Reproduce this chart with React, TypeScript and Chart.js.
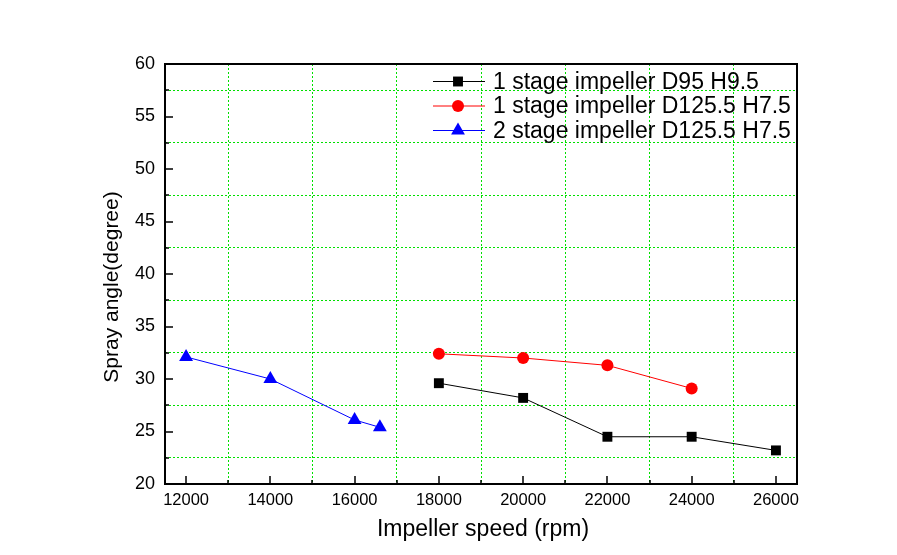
import React, { useEffect, useRef } from "react";
import { Chart, registerables } from "chart.js";

Chart.register(...registerables);

// ---- Data ----
const xMajorTicks = [12000, 14000, 16000, 18000, 20000, 22000, 24000, 26000];
const xMinorTicks = [13000, 15000, 17000, 19000, 21000, 23000, 25000];
const yMajorTicks = [20, 25, 30, 35, 40, 45, 50, 55, 60];
const yMinorTicks = [22.5, 27.5, 32.5, 37.5, 42.5, 47.5, 52.5, 57.5];

const seriesLabels = [
  "1 stage impeller D95 H9.5",
  "1 stage impeller D125.5 H7.5",
  "2 stage impeller D125.5 H7.5",
];
const series1Speed = [18000, 20000, 22000, 24000, 26000];
const series1Angle = [29.6, 28.2, 24.5, 24.5, 23.2];
const series2Speed = [18000, 20000, 22000, 24000];
const series2Angle = [32.4, 32.0, 31.3, 29.1];
const series3Speed = [12000, 14000, 16000, 16600];
const series3Angle = [32.1, 30.0, 26.1, 25.4];

const xTitle = "Impeller speed (rpm)";
const yTitle = "Spray angle(degree)";

const FONT = '"Liberation Sans", Arial, Helvetica, sans-serif';
const GREEN = "#00e000";

const seriesStyles = [
  { color: "#000000", pointStyle: "rect", radius: 7 },
  { color: "#ff0000", pointStyle: "circle", radius: 6 },
  { color: "#0000ff", pointStyle: "triangle", radius: 8 },
];

function toPoints(xs: number[], ys: number[]) {
  return xs.map((x, i) => ({ x, y: ys[i] }));
}

function drawMarker(ctx: CanvasRenderingContext2D, style: string, x: number, y: number, r: number) {
  ctx.beginPath();
  if (style === "rect") {
    const s = Math.SQRT1_2 * r;
    ctx.rect(x - s, y - s, 2 * s, 2 * s);
  } else if (style === "circle") {
    ctx.arc(x, y, r, 0, Math.PI * 2);
  } else {
    let rad = 0;
    const step = (2 * Math.PI) / 3;
    ctx.moveTo(x + Math.sin(rad) * r, y - Math.cos(rad) * r);
    rad += step;
    ctx.lineTo(x + Math.sin(rad) * r, y - Math.cos(rad) * r);
    rad += step;
    ctx.lineTo(x + Math.sin(rad) * r, y - Math.cos(rad) * r);
    ctx.closePath();
  }
  ctx.fill();
}

const framePlugin = {
  id: "frameAndLegend",
  afterDraw(chart: any) {
    const ctx: CanvasRenderingContext2D = chart.ctx;
    const { left, right, top, bottom } = chart.chartArea;
    const xs = chart.scales.x;
    const ys = chart.scales.y;
    ctx.save();
    // ticks (inward)
    ctx.strokeStyle = "#000";
    ctx.lineWidth = 1.5;
    ctx.beginPath();
    xMajorTicks.forEach((v) => {
      const px = Math.round(xs.getPixelForValue(v));
      ctx.moveTo(px, bottom);
      ctx.lineTo(px, bottom - 8);
    });
    xMinorTicks.forEach((v) => {
      const px = Math.round(xs.getPixelForValue(v));
      ctx.moveTo(px, bottom);
      ctx.lineTo(px, bottom - 4);
    });
    yMajorTicks.forEach((v) => {
      const py = Math.round(ys.getPixelForValue(v));
      ctx.moveTo(left, py);
      ctx.lineTo(left + 8, py);
    });
    yMinorTicks.forEach((v) => {
      const py = Math.round(ys.getPixelForValue(v));
      ctx.moveTo(left, py);
      ctx.lineTo(left + 4, py);
    });
    ctx.stroke();
    // frame
    ctx.lineWidth = 2;
    ctx.strokeRect(left, top, right - left, bottom - top);

    // axis titles
    ctx.fillStyle = "#000";
    ctx.textAlign = "center";
    ctx.textBaseline = "middle";
    ctx.font = `23px ${FONT}`;
    ctx.fillText(xTitle, (left + right) / 2 + 2, 530);
    ctx.save();
    ctx.translate(112, 287);
    ctx.rotate(-Math.PI / 2);
    ctx.font = `21px ${FONT}`;
    ctx.fillText(yTitle, 0, 0);
    ctx.restore();

    // legend
    const lx0 = right - 364;
    const lx1 = right - 312;
    const mx = right - 339;
    const tx = right - 304;
    const rowY = [top + 17.5, top + 42, top + 66.5];
    ctx.font = `23px ${FONT}`;
    ctx.textAlign = "left";
    seriesLabels.forEach((label, i) => {
      const st = seriesStyles[i];
      const y = rowY[i];
      ctx.strokeStyle = st.color;
      ctx.lineWidth = 1;
      ctx.beginPath();
      ctx.moveTo(lx0, y);
      ctx.lineTo(lx1, y);
      ctx.stroke();
      ctx.fillStyle = st.color;
      drawMarker(ctx, st.pointStyle, mx, y, st.radius);
      ctx.fillStyle = "#000";
      ctx.fillText(label, tx, y + 1);
    });
    ctx.restore();
  },
};

export default function App() {
  const ref = useRef<HTMLCanvasElement>(null);
  useEffect(() => {
    if (!ref.current) return;
    const allX = [...xMajorTicks, ...xMinorTicks].sort((a, b) => a - b);
    const allY = [...yMajorTicks, ...yMinorTicks].sort((a, b) => a - b);
    const dataSets = [
      toPoints(series1Speed, series1Angle),
      toPoints(series2Speed, series2Angle),
      toPoints(series3Speed, series3Angle),
    ];
    const chart = new Chart(ref.current, {
      type: "line",
      data: {
        datasets: dataSets.map((d, i) => ({
          label: seriesLabels[i],
          data: d,
          borderColor: seriesStyles[i].color,
          backgroundColor: seriesStyles[i].color,
          borderWidth: 1,
          pointStyle: seriesStyles[i].pointStyle as any,
          pointRadius: seriesStyles[i].radius,
          pointBorderWidth: 0,
          tension: 0,
          showLine: true,
          fill: false,
        })),
      },
      options: {
        animation: false,
        responsive: false,
        maintainAspectRatio: false,
        layout: { padding: { left: 0, top: 64, right: 100, bottom: 0 } },
        plugins: { legend: { display: false }, tooltip: { enabled: false } },
        scales: {
          x: {
            type: "linear",
            min: 11500,
            max: 26500,
            afterBuildTicks: (s: any) => {
              s.ticks = allX.map((v) => ({ value: v }));
            },
            afterFit: (s: any) => {
              s.height = 71;
            },
            ticks: {
              autoSkip: false,
              maxRotation: 0,
              padding: 7,
              color: "#000",
              font: { family: FONT, size: 16.5 },
              callback: (v: any) => (xMajorTicks.includes(Number(v)) ? String(v) : ""),
            },
            grid: {
              drawTicks: false,
              lineWidth: 1,
              color: (c: any) => (c.tick && xMinorTicks.includes(c.tick.value) ? GREEN : "rgba(0,0,0,0)"),
            },
            border: { display: false, dash: [2, 2] },
          },
          y: {
            type: "linear",
            min: 20,
            max: 60,
            afterBuildTicks: (s: any) => {
              s.ticks = allY.map((v) => ({ value: v }));
            },
            afterFit: (s: any) => {
              s.width = 165;
            },
            ticks: {
              autoSkip: false,
              padding: 10,
              color: "#000",
              font: { family: FONT, size: 18 },
              callback: (v: any) => (yMajorTicks.includes(Number(v)) ? String(v) : ""),
            },
            grid: {
              drawTicks: false,
              lineWidth: 1,
              color: (c: any) => (c.tick && yMinorTicks.includes(c.tick.value) ? GREEN : "rgba(0,0,0,0)"),
            },
            border: { display: false, dash: [2, 2] },
          },
        },
      },
      plugins: [framePlugin],
    });
    return () => chart.destroy();
  }, []);
  return (
    <canvas
      ref={ref}
      width={897}
      height={555}
      style={{ position: "absolute", left: 0, top: 0, width: 897, height: 555 }}
    />
  );
}
